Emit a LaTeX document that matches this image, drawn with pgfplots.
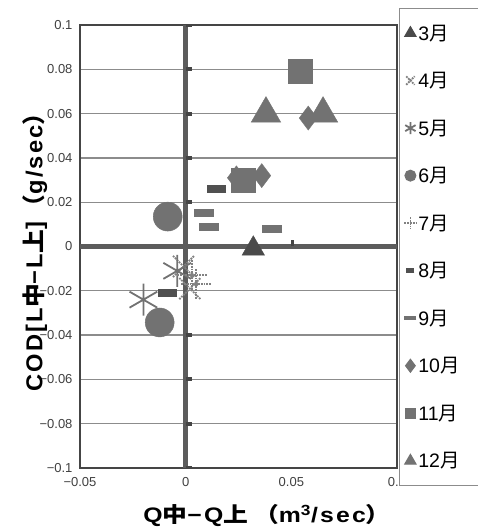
\documentclass[border=0pt]{standalone}
\usepackage{graphicx}
\usepackage{pgfplots}
\pgfplotsset{compat=1.18}
\usepackage{fontspec}
\setmainfont{Liberation Sans}
\newfontfamily\jp{Noto Sans CJK JP}
\newfontfamily\lab{Liberation Sans}[LetterSpace=9.0]
\newfontfamily\labjp{Noto Sans CJK JP}[LetterSpace=9.0]
\definecolor{axdark}{HTML}{454545}
\definecolor{zeroc}{HTML}{5C5C5C}
\definecolor{gridc}{HTML}{8C8C8C}
\definecolor{pat}{HTML}{727272}
\definecolor{patd}{HTML}{505050}
\definecolor{m3}{HTML}{4A4A4A}
\definecolor{lt}{HTML}{828282}
\begin{document}
\begin{tikzpicture}
\path[use as bounding box] (-80bp,-61bp) rectangle (398bp,468bp);
\begin{axis}[
  scale only axis, width=317bp, height=443bp,
  xmin=-0.05, xmax=0.1, ymin=-0.1, ymax=0.1,
  xtick={-0.05,0,0.05,0.1},
  xticklabels={−0.05,0,0.05,0.1},
  ytick={-0.1,-0.08,-0.06,-0.04,-0.02,0,0.02,0.04,0.06,0.08,0.1},
  yticklabels={−0.1,−0.08,−0.06,−0.04,−0.02,0,0.02,0.04,0.06,0.08,0.1},
  tick style={draw=none},
  ymajorgrids, grid style={gridc, line width=1.3bp},
  extra y ticks={0}, extra y tick labels={},
  extra y tick style={grid style={zeroc, line width=4.5bp}},
  extra x ticks={0}, extra x tick labels={},
  extra x tick style={xmajorgrids=true, grid style={zeroc, line width=4.5bp}},
  axis line style={axdark, line width=1.6bp},
  ticklabel style={font=\fontsize{13bp}{15bp}\selectfont, text=black!75},
  xticklabel style={yshift=-6bp},
  yticklabel style={xshift=-4bp},
  xlabel={\scalebox{1.18}[1]{\lab\bfseries Q{\labjp 中}−Q{\labjp 上}\hspace{5bp}{\labjp （}m\textsuperscript{3}/sec{\labjp ）}}},
  xlabel style={at={(rel axis cs:0.59,0)}, anchor=center, yshift=-48bp, inner sep=0pt, font=\fontsize{21bp}{23bp}\selectfont},
  ylabel={\scalebox{1.03}[1]{\lab\bfseries COD[L{\labjp 中}−L{\labjp 上}]\,{\labjp （}g/sec{\labjp ）}}},
  ylabel style={at={(rel axis cs:-0.142,0.5)}, anchor=center, inner sep=0pt, font=\fontsize{23bp}{25bp}\selectfont},
  legend style={at={(rel axis cs:1.006,1.038)}, anchor=north west, draw=gridc, line width=1bp,
    font=\fontsize{19.5bp}{21bp}\selectfont, row sep=26.7bp, inner xsep=5bp, inner ysep=14bp,
    cells={anchor=west}},
  legend cell align=left,
  legend image code/.code={\draw[#1] plot coordinates {(0bp,0bp)};},
]
\addplot[only marks, mark=triangle*, mark size=13bp, mark options={fill=m3, draw=m3},
  legend image post style={mark size=6.5bp}] coordinates {(0.032,-0.001)};
\addlegendentry{\makebox[62bp][l]{3{\jp 月}}}
\addplot[only marks, mark=x, mark size=15bp, mark options={draw=lt, line width=1.8bp, densely dotted},
  legend image post style={mark size=6bp}] coordinates {(-0.001,-0.009) (0.002,-0.019)};
\addlegendentry{4{\jp 月}}
\addplot[only marks, mark=asterisk, mark size=16bp, mark options={draw=pat, line width=1.8bp},
  legend image post style={mark size=6bp}] coordinates {(-0.020,-0.024) (-0.004,-0.011)};
\addlegendentry{5{\jp 月}}
\addplot[only marks, mark=*, mark size=14.5bp, mark options={fill=pat, draw=pat},
  legend image post style={mark size=5.5bp}] coordinates {(-0.0085,0.0135) (-0.0123,-0.0343)};
\addlegendentry{6{\jp 月}}
\addplot[only marks, mark=+, mark size=15bp, mark options={draw=lt, line width=1.8bp, densely dotted},
  legend image post style={mark size=6bp}] coordinates {(0.003,-0.013) (0.005,-0.017)};
\addlegendentry{7{\jp 月}}
\addplot[only marks, mark=-, mark size=9.5bp, mark options={draw=patd, line width=8bp},
  legend image post style={mark size=4bp, mark options={draw=patd, line width=5bp}}] coordinates {(0.0146,0.026) (-0.0085,-0.021)};
\addlegendentry{8{\jp 月}}
\addplot[only marks, mark=-, mark size=10bp, mark options={draw=pat, line width=8bp},
  legend image post style={mark size=6bp, mark options={draw=pat, line width=4bp}}] coordinates {(0.0085,0.0149) (0.011,0.009) (0.041,0.0077)};
\addlegendentry{9{\jp 月}}
\addplot[only marks, mark=diamond*, mark size=12bp, mark options={fill=pat, draw=pat},
  legend image post style={mark size=6.5bp}] coordinates {(0.024,0.031) (0.036,0.032) (0.058,0.058)};
\addlegendentry{10{\jp 月}}
\addplot[only marks, mark=square*, mark size=12bp, mark options={fill=pat, draw=pat},
  legend image post style={mark size=5bp}] coordinates {(0.027,0.030) (0.054,0.079)};
\addlegendentry{11{\jp 月}}
\addplot[only marks, mark=triangle*, mark size=17bp, mark options={fill=pat, draw=pat},
  legend image post style={mark size=6.5bp}] coordinates {(0.038,0.060) (0.065,0.060)};
\addlegendentry{12{\jp 月}}
\addplot[only marks, forget plot, mark=diamond*, mark size=3bp, mark options={fill=lt, draw=lt}]
  coordinates {(0.003,-0.013) (0.005,-0.017)};
\draw[axdark, line width=4bp] (axis cs:0,0.1) -- (axis cs:0.0028,0.1);
\draw[axdark, line width=4bp] (axis cs:0,0.08) -- (axis cs:0.0028,0.08);
\draw[axdark, line width=4bp] (axis cs:0,0.06) -- (axis cs:0.0028,0.06);
\draw[axdark, line width=4bp] (axis cs:0,0.04) -- (axis cs:0.0028,0.04);
\draw[axdark, line width=4bp] (axis cs:0,0.02) -- (axis cs:0.0028,0.02);
\draw[axdark, line width=4bp] (axis cs:0,-0.04) -- (axis cs:0.0028,-0.04);
\draw[axdark, line width=4bp] (axis cs:0,-0.06) -- (axis cs:0.0028,-0.06);
\draw[axdark, line width=4bp] (axis cs:0,-0.08) -- (axis cs:0.0028,-0.08);
\draw[axdark, line width=4bp] (axis cs:0,-0.1) -- (axis cs:0.0028,-0.1);
\draw[axdark, line width=3bp] (axis cs:0.0505,0) -- (axis cs:0.0505,0.003);
\end{axis}
\end{tikzpicture}
\end{document}
